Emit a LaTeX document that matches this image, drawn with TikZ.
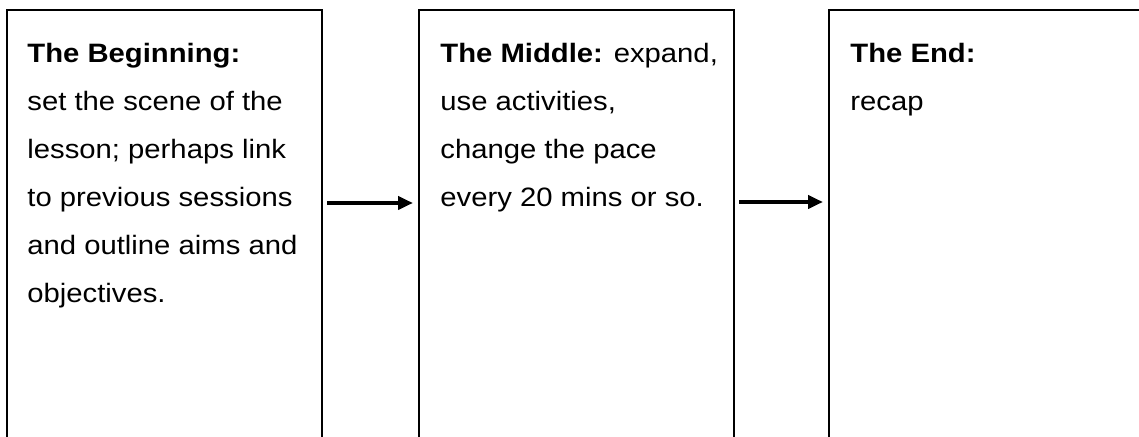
\documentclass[tikz,border=0pt]{standalone}
\usepackage{fontspec}
\setmainfont{Liberation Sans}[FakeStretch=1.1]
\usetikzlibrary{arrows.meta}
\begin{document}
\begin{tikzpicture}[x=0.5pt, y=-0.5pt,
    stage/.style={draw, line width=1pt, inner sep=0pt, outer sep=0pt, anchor=north west, minimum height=225pt},
    words/.style={inner sep=0pt, anchor=north west, align=left, font=\fontsize{13.3}{24}\selectfont},
    flow/.style={-{Triangle[length=7.5pt, width=6.5pt]}, line width=2pt, shorten <=2.5pt, shorten >=3pt}]
    \clip (0,0) rectangle (1139,437);
    \fill[white] (0,0) rectangle (1139,437);
    \node[stage, minimum width=157.5pt] (begin) at (7,10) {};
    \node[stage, minimum width=157.5pt] (middle) at (419,10) {};
    \node[stage, minimum width=170pt] (end) at (829,10) {};
    \node[words] (begintext) at (27,10) {\rule{0pt}{26pt}\textbf{The Beginning:}\\ set the scene of the\\ lesson; perhaps link\\ to previous sessions\\ and outline aims and\\ objectives.};
    \node[words] (middletext) at (440,10) {\rule{0pt}{26pt}\textbf{The Middle:} expand,\\ use activities,\\ change the pace\\ every 20 mins or so.};
    \node[words] (endtext) at (850,10) {\rule{0pt}{26pt}\textbf{The End:}\\ recap};
    \draw[flow] ([yshift=-96.5pt]begin.north east) -- ([yshift=-96.5pt]middle.north west);
    \draw[flow] ([yshift=-96pt]middle.north east) -- ([yshift=-96pt]end.north west);
\end{tikzpicture}
\end{document}
